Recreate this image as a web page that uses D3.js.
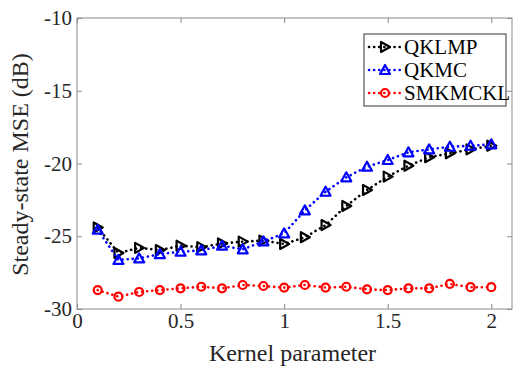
<!DOCTYPE html>
<html>
<head>
<meta charset="utf-8">
<script src="https://cdn.jsdelivr.net/npm/d3@7"></script>
<style>
  html, body { margin: 0; padding: 0; background: #fff; }
  svg text { font-family: "Liberation Serif", "Times New Roman", serif; }
</style>
</head>
<body>
<svg id="chart" width="528" height="371"></svg>
<script>
// Kernel parameter values (x axis)
const kernelParams = [0.1, 0.2, 0.3, 0.4, 0.5, 0.6, 0.7, 0.8, 0.9, 1.0,
                      1.1, 1.2, 1.3, 1.4, 1.5, 1.6, 1.7, 1.8, 1.9, 2.0];

// Steady-state MSE (dB) for each algorithm
const qklmp = [-24.4, -26.15, -25.8, -25.95, -25.65, -25.75, -25.5, -25.37, -25.3, -25.53,
               -25.07, -24.23, -22.92, -21.82, -20.9, -20.15, -19.57, -19.3, -19.03, -18.78];
const qkmc = [-24.55, -26.63, -26.52, -26.23, -26.06, -25.97, -25.65, -25.9, -25.35, -24.8,
              -23.22, -21.94, -20.95, -20.22, -19.76, -19.23, -19.03, -18.85, -18.78, -18.68];
const smkmckl = [-28.7, -29.15, -28.83, -28.7, -28.58, -28.47, -28.58, -28.35, -28.42, -28.53,
                 -28.35, -28.53, -28.47, -28.65, -28.7, -28.58, -28.58, -28.28, -28.5, -28.5];

const seriesNames = ["QKLMP", "QKMC", "SMKMCKL"];
const xTicks = [0, 0.5, 1, 1.5, 2];
const yTicks = [-30, -25, -20, -15, -10];

const series = [
  { name: seriesNames[0], values: qklmp, color: "#000000", marker: "right" },
  { name: seriesNames[1], values: qkmc, color: "#0000ff", marker: "up" },
  { name: seriesNames[2], values: smkmckl, color: "#ff0000", marker: "circle" }
];

const FONT = "Liberation Serif, Times New Roman, serif";
const svg = d3.select("#chart");
const plot = { left: 77, right: 512, top: 18, bottom: 309 };

const x = d3.scaleLinear().domain([0, 2.1]).range([plot.left, plot.right]);
const y = d3.scaleLinear().domain([-30, -10]).range([plot.bottom, plot.top]);

const axisColor = "#8a8a8a";
const textColor = "#262626";

// Plot box
svg.append("rect")
  .attr("x", plot.left).attr("y", plot.top)
  .attr("width", plot.right - plot.left).attr("height", plot.bottom - plot.top)
  .attr("fill", "none").attr("stroke", axisColor).attr("stroke-width", 1);

// Plain hyphen-minus tick labels
const fmt = d => String(d);

// Axes with inward ticks
const xAxis = d3.axisBottom(x).tickValues(xTicks).tickSizeInner(-5).tickSizeOuter(0)
  .tickPadding(4).tickFormat(fmt);
const gx = svg.append("g").attr("transform", `translate(0,${plot.bottom})`).call(xAxis);
const xAxisTop = d3.axisTop(x).tickValues(xTicks).tickSizeInner(-5).tickSizeOuter(0).tickFormat("");
const gxt = svg.append("g").attr("transform", `translate(0,${plot.top})`).call(xAxisTop);

const yAxis = d3.axisLeft(y).tickValues(yTicks).tickSizeInner(-5).tickSizeOuter(0)
  .tickPadding(5).tickFormat(fmt);
const gy = svg.append("g").attr("transform", `translate(${plot.left},0)`).call(yAxis);
const yAxisRight = d3.axisRight(y).tickValues(yTicks).tickSizeInner(-5).tickSizeOuter(0).tickFormat("");
const gyr = svg.append("g").attr("transform", `translate(${plot.right},0)`).call(yAxisRight);

[gx, gxt, gy, gyr].forEach(g => {
  g.attr("font-family", FONT).attr("font-size", 21);
  g.select(".domain").remove();
  g.selectAll(".tick line").attr("stroke", axisColor);
  g.selectAll(".tick text").attr("fill", textColor);
});

// Axis titles
svg.append("text")
  .attr("x", (plot.left + plot.right) / 2 - 2).attr("y", 361)
  .attr("text-anchor", "middle").attr("fill", textColor)
  .attr("font-family", FONT).attr("font-size", 24)
  .text("Kernel parameter");

svg.append("text")
  .attr("transform", `translate(28,${(plot.top + plot.bottom) / 2 + 1}) rotate(-90)`)
  .attr("text-anchor", "middle").attr("fill", textColor)
  .attr("font-family", FONT).attr("font-size", 24)
  .text("Steady-state MSE (dB)");

// Marker drawing
function drawMarker(g, type, cx, cy, color) {
  if (type === "circle") {
    g.append("circle").attr("cx", cx).attr("cy", cy).attr("r", 4)
      .attr("fill", "none").attr("stroke", color).attr("stroke-width", 2.2);
  } else if (type === "up") {
    const s = 5;
    g.append("path")
      .attr("d", `M${cx},${cy - s} L${cx + s},${cy + s * 0.8} L${cx - s},${cy + s * 0.8} Z`)
      .attr("fill", "none").attr("stroke", color).attr("stroke-width", 2.2)
      .attr("stroke-linejoin", "round");
  } else {
    const s = 5;
    g.append("path")
      .attr("d", `M${cx + s},${cy} L${cx - s * 0.8},${cy - s} L${cx - s * 0.8},${cy + s} Z`)
      .attr("fill", "none").attr("stroke", color).attr("stroke-width", 2.2)
      .attr("stroke-linejoin", "round");
  }
}

const line = d3.line().x(d => x(d[0])).y(d => y(d[1]));

series.forEach(s => {
  const pts = kernelParams.map((k, i) => [k, s.values[i]]);
  const g = svg.append("g");
  g.append("path").datum(pts)
    .attr("d", line)
    .attr("fill", "none").attr("stroke", s.color)
    .attr("stroke-width", 2.6)
    .attr("stroke-dasharray", "0.1 5")
    .attr("stroke-linecap", "round");
  pts.forEach(p => drawMarker(g, s.marker, x(p[0]), y(p[1]), s.color));
});

// Legend
const lg = svg.append("g");
lg.append("rect").attr("x", 364).attr("y", 34).attr("width", 142).attr("height", 72)
  .attr("fill", "#fff").attr("stroke", "#333").attr("stroke-width", 1);
series.forEach((s, i) => {
  const cy = 47 + i * 23;
  lg.append("line").attr("x1", 369).attr("x2", 401).attr("y1", cy).attr("y2", cy)
    .attr("stroke", s.color).attr("stroke-width", 2.6)
    .attr("stroke-dasharray", "0.1 5").attr("stroke-linecap", "round");
  drawMarker(lg, s.marker, 385, cy, s.color);
  lg.append("text").attr("x", 404).attr("y", cy).attr("dy", "0.35em")
    .attr("fill", "#000").attr("font-family", FONT).attr("font-size", 21)
    .text(s.name);
});
</script>
</body>
</html>
